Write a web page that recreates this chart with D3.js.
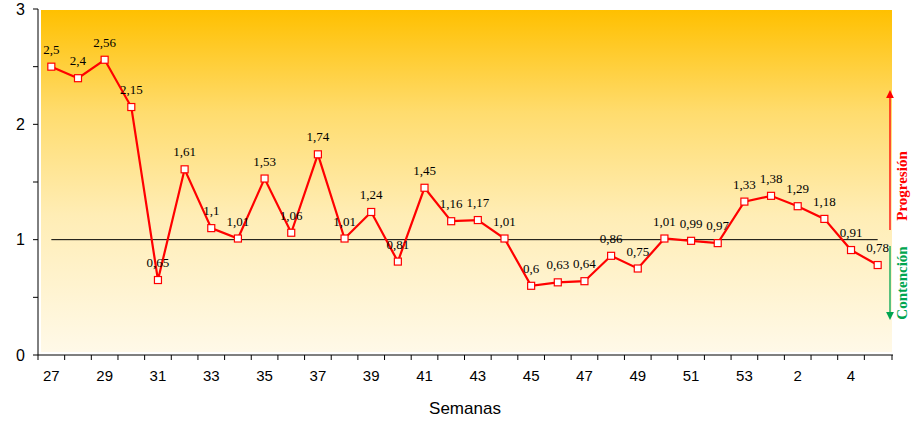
<!DOCTYPE html>
<html><head><meta charset="utf-8">
<script src="https://cdn.jsdelivr.net/npm/d3@7"></script>
<style>body{margin:0;background:#fff}svg{display:block}</style>
</head><body>
<svg id="c" width="913" height="421"></svg>
<script>
const weeks = ["27","28","29","30","31","32","33","34","35","36","37","38","39","40","41","42","43","44","45","46","47","48","49","50","51","52","53","1","2","3","4","5"];
const values = [2.5,2.4,2.56,2.15,0.65,1.61,1.1,1.01,1.53,1.06,1.74,1.01,1.24,0.81,1.45,1.16,1.17,1.01,0.6,0.63,0.64,0.86,0.75,1.01,0.99,0.97,1.33,1.38,1.29,1.18,0.91,0.78];
const shownLabels = ["27","29","31","33","35","37","39","41","43","45","47","49","51","53","2","4"];
const yTicks = [0,1,2,3];
const yMinorTicks = [0.5,1.5,2.5];
const refValue = 1;

const svg = d3.select("#c");
const L = 38, R = 891, T = 9, B = 355;
const x = d3.scaleBand().domain(weeks).range([L, R]).padding(0);
const y = d3.scaleLinear().domain([0,3]).range([B, T]);

const defs = svg.append("defs");
const g = defs.append("linearGradient").attr("id","bg").attr("x1",0).attr("y1",0).attr("x2",0).attr("y2",1);
g.append("stop").attr("offset","0%").attr("stop-color","#FFC000");
g.append("stop").attr("offset","30%").attr("stop-color","#FFDC6E");
g.append("stop").attr("offset","60%").attr("stop-color","#FFEDB5");
g.append("stop").attr("offset","100%").attr("stop-color","#FFF9E8");
svg.append("rect").attr("x",L+3).attr("y",T+1).attr("width",R-L-2).attr("height",B-T-4).attr("fill","url(#bg)");

// y axis
const ya = svg.append("g");
ya.append("line").attr("x1",L).attr("x2",L).attr("y1",y(3)).attr("y2",B).attr("stroke","#000");
yTicks.concat(yMinorTicks).forEach(v=>{
  ya.append("line").attr("x1",L-5).attr("x2",L).attr("y1",y(v)).attr("y2",y(v)).attr("stroke","#000");
});
yTicks.forEach(v=>{
  ya.append("text").attr("x",L-13).attr("y",y(v)).attr("dy","0.35em").attr("text-anchor","end")
    .attr("font-family","Liberation Sans, Arial, sans-serif").attr("font-size",16).text(v);
});

// x axis
const xa = svg.append("g");
xa.append("line").attr("x1",L).attr("x2",R+2).attr("y1",B).attr("y2",B).attr("stroke","#000");
weeks.forEach((w,i)=>{
  const xv = x(w);
  xa.append("line").attr("x1",xv).attr("x2",xv).attr("y1",B).attr("y2",B+5).attr("stroke","#000");
});
xa.append("line").attr("x1",R+1).attr("x2",R+1).attr("y1",B).attr("y2",B+5).attr("stroke","#000");
shownLabels.forEach(w=>{
  xa.append("text").attr("x",x(w)+x.bandwidth()/2).attr("y",376).attr("dy","0.35em").attr("text-anchor","middle")
    .attr("font-family","Liberation Sans, Arial, sans-serif").attr("font-size",15).text(w);
});
svg.append("text").attr("x",465).attr("y",408).attr("dy","0.35em").attr("text-anchor","middle")
  .attr("font-family","Liberation Sans, Arial, sans-serif").attr("font-size",17).text("Semanas");

// reference line
const cx = w => x(w)+x.bandwidth()/2;
svg.append("line").attr("x1",cx(weeks[0])).attr("x2",cx(weeks[weeks.length-1])).attr("y1",y(refValue)).attr("y2",y(refValue))
  .attr("stroke","#000").attr("stroke-width",1);

// line
const data = weeks.map((w,i)=>({w, v: values[i]}));
svg.append("path").datum(data).attr("fill","none").attr("stroke","#FF0000").attr("stroke-width",2.2)
  .attr("d", d3.line().x(d=>cx(d.w)).y(d=>y(d.v)));
svg.selectAll("rect.pt").data(data).enter().append("rect").attr("class","pt")
  .attr("x",d=>cx(d.w)-3.5).attr("y",d=>y(d.v)-3.5).attr("width",7).attr("height",7)
  .attr("fill","#fff").attr("stroke","#FF0000").attr("stroke-width",1.2);
svg.selectAll("text.lbl").data(data).enter().append("text").attr("class","lbl")
  .attr("x",d=>cx(d.w)).attr("y",d=>y(d.v)-13).attr("text-anchor","middle")
  .attr("font-family","Liberation Serif, Times New Roman, serif").attr("font-size",13)
  .text(d=>String(d.v).replace(".",","));

// right annotations
defs.append("marker").attr("id","ar").attr("viewBox","0 0 10 10").attr("refX",5).attr("refY",5)
  .attr("markerWidth",6).attr("markerHeight",7).attr("orient","auto-start-reverse")
  .append("path").attr("d","M0,0 L10,5 L0,10 z").attr("fill","#FF0000");
defs.append("marker").attr("id","ag").attr("viewBox","0 0 10 10").attr("refX",5).attr("refY",5)
  .attr("markerWidth",6).attr("markerHeight",7).attr("orient","auto-start-reverse")
  .append("path").attr("d","M0,0 L10,5 L0,10 z").attr("fill","#00A550");
svg.append("line").attr("x1",890).attr("x2",890).attr("y1",230).attr("y2",94).attr("stroke","#FF0000").attr("stroke-width",1.3).attr("marker-end","url(#ar)");
svg.append("line").attr("x1",890).attr("x2",890).attr("y1",246).attr("y2",316).attr("stroke","#00A550").attr("stroke-width",1.3).attr("marker-end","url(#ag)");
svg.append("text").attr("transform","translate(907,186) rotate(-90)").attr("text-anchor","middle")
  .attr("font-family","Liberation Serif, Times New Roman, serif").attr("font-weight","bold").attr("font-size",15)
  .attr("fill","#FF0000").text("Progresión");
svg.append("text").attr("transform","translate(907,283) rotate(-90)").attr("text-anchor","middle")
  .attr("font-family","Liberation Serif, Times New Roman, serif").attr("font-weight","bold").attr("font-size",15)
  .attr("fill","#00A550").text("Contención");
</script>
</body></html>
